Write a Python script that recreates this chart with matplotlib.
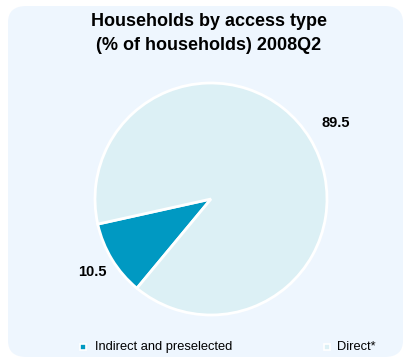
import matplotlib
matplotlib.use("Agg")
import matplotlib.pyplot as plt
from matplotlib.patches import FancyBboxPatch, Rectangle
import numpy as np

categories = ["Indirect and preselected", "Direct*"]
values = [10.5, 89.5]
value_labels = ["10.5", "89.5"]
colors = ["#0099C2", "#DCF0F5"]
title_lines = ["Households by access type", "(% of households) 2008Q2"]

W, H = 412, 363
fig = plt.figure(figsize=(W / 100, H / 100), dpi=100)
fig.patch.set_facecolor("white")

# rounded panel background
bg = FancyBboxPatch((8 / W, 6 / H), 395 / W, 351 / H,
                    boxstyle="round,pad=0,rounding_size=0.045",
                    transform=fig.transFigure, facecolor="#EEF6FE",
                    edgecolor="none", zorder=-5)
fig.patches.append(bg)

for i, line in enumerate(title_lines):
    fig.text(209 / W, 1 - (22 + 24 * i) / H, line, ha="center", va="center",
             fontsize=13, fontweight="bold", family="Liberation Sans")

# pie axes: center (211,199), radius ~116 px
r = 116
cx, cy = 211, 199
ax = fig.add_axes([(cx - r) / W, 1 - (cy + r) / H, 2 * r / W, 2 * r / H],
                  zorder=2)
ax.patch.set_alpha(0)
ax.axis("off")
wedges, _ = ax.pie(values, colors=colors, startangle=192.5, counterclock=True,
                   radius=1, center=(0, 0), frame=False,
                   wedgeprops=dict(edgecolor="white", linewidth=2))
ax.set_aspect("equal")
ax.set_xlim(-1.0, 1.0)
ax.set_ylim(-1.0, 1.0)

start = 192.5
for v, lab, d in zip(values, value_labels, [1.20, 1.26]):
    mid = np.deg2rad(start + v * 3.6 / 2)
    ax.text(d * np.cos(mid), d * np.sin(mid), lab, ha="center", va="center",
            fontsize=10.5, fontweight="bold", family="Liberation Sans",
            clip_on=False)
    start += v * 3.6

# legend
leg_y = 1 - 347 / H
items = [(82.5, 95, categories[0]), (327, 337, categories[1])]
for (mx, tx, lab), c in zip(items, colors):
    fig.patches.append(Rectangle(((mx - 3) / W, leg_y - 3 / H), 6 / W, 6 / H,
                                 transform=fig.transFigure, facecolor=c,
                                 edgecolor="white", linewidth=1.2, zorder=3))
    fig.text(tx / W, leg_y, lab, ha="left", va="center", fontsize=9.3,
             family="Liberation Sans")

fig.savefig("out.png", dpi=100, facecolor="white")
